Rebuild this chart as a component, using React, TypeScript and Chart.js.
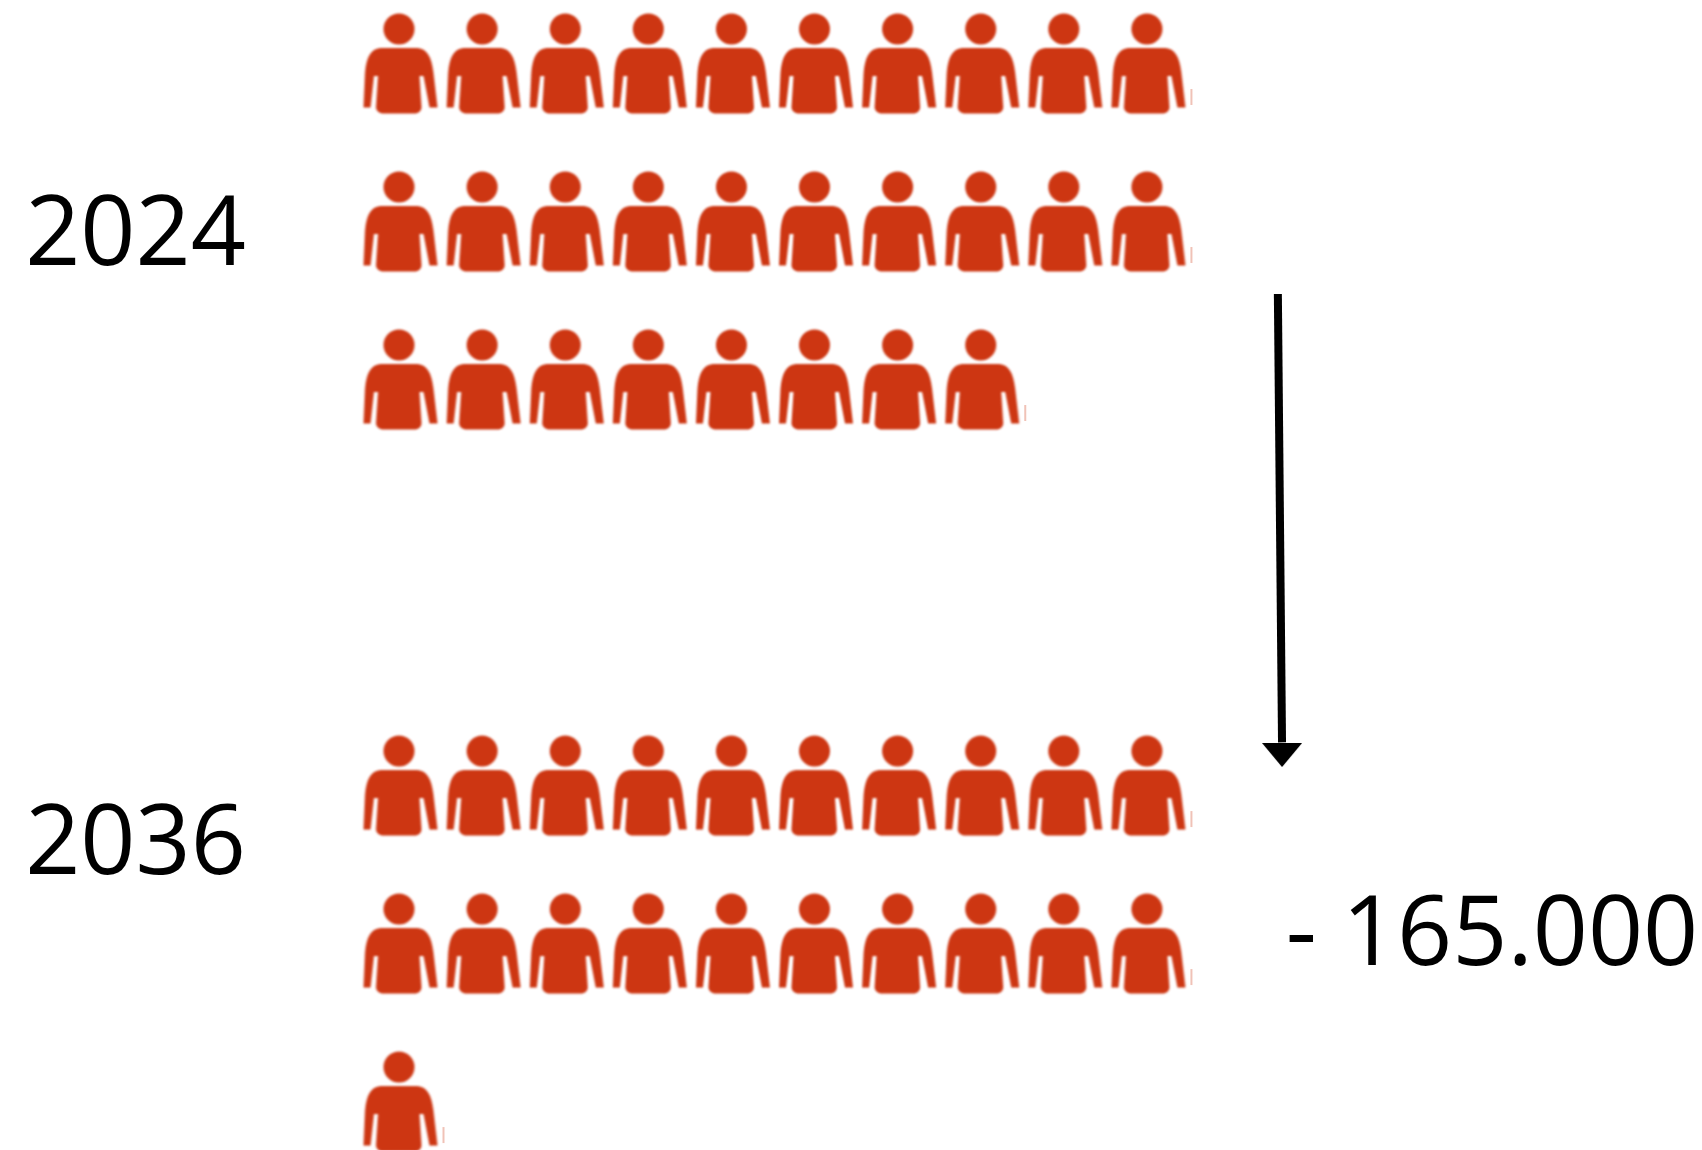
import React, { useEffect, useRef } from "react";
import { Chart, registerables } from "chart.js";

Chart.register(...registerables);

const WIDTH = 1702;
const HEIGHT = 1150;
const COL_PX = 83.1;
const ROW_PX = 158;
const ORIGIN_X = 399.5;
const ORIGIN_Y = 63;
const RED = "#CD3612";

// One icon per 100.000 people: each row lists how many icons it holds.
const rows2024 = [10, 10, 8];
const rows2036 = [10, 10, 1];
const rowPositions2024 = [0, 1, 2];
const rowPositions2036 = [4.57, 5.57, 6.57];

const arrowLineX = [10.57, 10.62];
const arrowLineY = [1.462, 4.3];
const arrowHeadX = [10.62];
const arrowHeadY = [4.38];

const textLabels = ["2024", "2036", "- 165.000"];
const textX = [-4.505, -4.505, 10.665];
const textY = [1.278, 5.133, 5.709];

function iconPoints(counts: number[], positions: number[]) {
  const pts: { x: number; y: number; last: boolean }[] = [];
  counts.forEach((n, r) => {
    for (let c = 0; c < n; c++) pts.push({ x: c, y: positions[r], last: c === n - 1 });
  });
  return pts;
}

function personIcon(withSliver: boolean) {
  const cv = document.createElement("canvas");
  cv.width = 92;
  cv.height = 110;
  const g = cv.getContext("2d")!;
  g.filter = "blur(1.3px)";
  g.fillStyle = RED;
  g.translate(46, 55);
  g.beginPath();
  g.arc(-0.5, -34, 15.5, 0, Math.PI * 2);
  g.fill();
  g.beginPath();
  g.moveTo(-36, 44.5);
  g.lineTo(-34.5, 10);
  g.bezierCurveTo(-33, -6, -29, -14, -19, -15);
  g.lineTo(18, -15);
  g.bezierCurveTo(28, -14, 32, -6, 34, 10);
  g.lineTo(38, 44.5);
  g.lineTo(30, 44.5);
  g.lineTo(24, 13);
  g.lineTo(20, 13);
  g.lineTo(22, 44);
  g.bezierCurveTo(22, 48, 19, 50.5, 15, 50.5);
  g.lineTo(-16, 50.5);
  g.bezierCurveTo(-20, 50.5, -23.5, 48, -23.5, 44);
  g.lineTo(-21.5, 13);
  g.lineTo(-25.5, 13);
  g.lineTo(-29, 44.5);
  g.closePath();
  g.fill();
  if (withSliver) {
    // Faint cut-off edge at the end of each row of icons.
    g.filter = "blur(0.6px)";
    g.fillStyle = "rgba(205, 54, 18, 0.3)";
    g.fillRect(43, 26, 2, 16);
  }
  return cv;
}

function arrowHead() {
  const cv = document.createElement("canvas");
  cv.width = 40;
  cv.height = 24;
  const g = cv.getContext("2d")!;
  g.fillStyle = "#000000";
  g.beginPath();
  g.moveTo(0, 0);
  g.lineTo(40, 0);
  g.lineTo(20, 24);
  g.closePath();
  g.fill();
  return cv;
}

const textPlugin = {
  id: "textPlugin",
  afterDatasetsDraw(chart: any) {
    const { ctx, scales } = chart;
    ctx.save();
    ctx.font = '96.5px "Open Sans"';
    ctx.fillStyle = "#000000";
    ctx.textAlign = "left";
    ctx.textBaseline = "alphabetic";
    textLabels.forEach((t, i) => {
      ctx.fillText(t, scales.x.getPixelForValue(textX[i]), scales.y.getPixelForValue(textY[i]));
    });
    ctx.restore();
  },
};

export default function App() {
  const ref = useRef<HTMLCanvasElement>(null);
  useEffect(() => {
    const icon = personIcon(false);
    const iconEnd = personIcon(true);
    const styleFor = (c: any) => (c.raw && c.raw.last ? iconEnd : icon);
    const chart = new Chart(ref.current!, {
      type: "scatter",
      data: {
        datasets: [
          {
            label: "2024",
            data: iconPoints(rows2024, rowPositions2024),
            pointStyle: styleFor as any,
            pointRadius: 40,
            clip: false,
          },
          {
            label: "2036",
            data: iconPoints(rows2036, rowPositions2036),
            pointStyle: styleFor as any,
            pointRadius: 40,
            clip: false,
          },
          {
            type: "line",
            label: "arrow",
            data: arrowLineX.map((x, i) => ({ x, y: arrowLineY[i] })),
            borderColor: "#000000",
            borderWidth: 8,
            pointRadius: 0,
            fill: false,
          },
          {
            label: "arrow head",
            data: arrowHeadX.map((x, i) => ({ x, y: arrowHeadY[i] })),
            pointStyle: arrowHead() as any,
            pointRadius: 20,
          },
        ],
      },
      options: {
        responsive: false,
        animation: false,
        devicePixelRatio: 1,
        layout: { padding: 0, autoPadding: false },
        plugins: { legend: { display: false }, title: { display: false }, tooltip: { enabled: false } },
        scales: {
          x: {
            type: "linear",
            display: false,
            min: -ORIGIN_X / COL_PX,
            max: (WIDTH - ORIGIN_X) / COL_PX,
          },
          y: {
            type: "linear",
            display: false,
            reverse: true,
            min: -ORIGIN_Y / ROW_PX,
            max: (HEIGHT - ORIGIN_Y) / ROW_PX,
          },
        },
      },
      plugins: [textPlugin],
    });
    return () => chart.destroy();
  }, []);
  return (
    <canvas
      ref={ref}
      width={WIDTH}
      height={HEIGHT}
      style={{ position: "absolute", left: 0, top: 0, display: "block", width: WIDTH, height: HEIGHT }}
    />
  );
}
